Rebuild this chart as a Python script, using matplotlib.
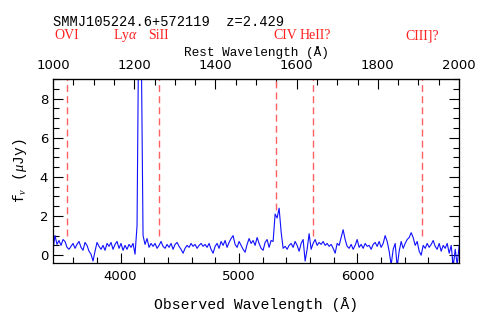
import numpy as np
import matplotlib
matplotlib.use("Agg")
import matplotlib.pyplot as plt
from matplotlib.ticker import MultipleLocator, FixedLocator
from matplotlib.transforms import blended_transform_factory

# source info
obj_name = "SMMJ105224.6+572119"
redshift = 2.429

# observed spectrum: regular grid, start + step in Angstrom
wave_start = 3429.0
wave_step = 16.9
flux = [
    0.3, 1.0, 0.55, 0.75, 0.5, 0.8, 0.7, 0.4, 0.3, 0.45,
    0.6, 0.35, 0.55, 0.7, 0.4, 0.25, 0.65, 0.5, 0.2, 0.05,
    -0.3, 0.2, 0.65, 0.45, 0.3, 0.5, 0.25, 0.6, 0.45, 0.65,
    0.3, 0.55, 0.7, 0.35, 0.6, 0.25, 0.5, 0.3, 0.55, 0.4,
    0.6, 0.05, 1.5, 14.0, 12.0, 1.0, 0.55, 0.85, 0.4, 0.6,
    0.45, 0.6, 0.35, 0.5, 0.7, 0.45, 0.35, 0.55, 0.4, 0.6,
    0.3, 0.55, 0.65, 0.45, 0.3, 0.1, 0.35, 0.5, 0.4, 0.6,
    0.45, 0.55, 0.35, 0.5, 0.6, 0.45, 0.55, 0.4, 0.6, 0.3,
    0.1, 0.45, 0.6, 0.35, 0.7, 0.5, 0.75, 0.4, 0.65, 0.85,
    1.0, 0.55, 0.4, 0.7, 0.5, 0.3, 0.15, 0.55, 0.85, 0.6,
    0.75, 0.5, 0.9, 0.6, 0.35, 0.25, 0.65, 0.8, 0.4, 0.75,
    0.7, 2.1, 1.9, 2.4, 1.2, 0.35, 0.45, 0.3, 0.5, 0.6,
    0.4, 0.7, 0.5, 0.2, 0.6, 0.8, -0.3, 0.3, 1.1, 0.3,
    0.6, 0.8, 0.5, 0.65, 0.55, 0.7, 0.5, 0.6, 0.45, 0.55,
    0.35, 0.1, 0.6, 0.5, 0.9, 1.3, 0.8, 0.45, 0.35, 0.55,
    0.3, 0.5, 0.8, 0.4, 0.55, 0.35, 0.6, 0.45, 0.5, 0.3,
    0.55, 0.65, 0.45, 0.7, 0.4, 0.6, 1.0, 0.7, 0.2, -0.5,
    0.3, 0.6, -0.6, 0.2, 0.7, 0.35, 0.6, 0.8, 0.9, 1.15,
    0.9, 0.5, 0.7, 0.2, 0.0, 0.5, 0.35, 0.6, 0.4, 0.55,
    0.75, 0.45, 0.3, 0.6, 0.2, 0.5, 0.35, 0.6, 0.1, 0.5,
    -0.6, 0.3, -0.5, 0.5,
]

# emission lines (rest frame, Angstrom) and where the marker stops (flux)
line_names = ["OVI", r"Ly$\alpha$", "SiII", "CIV", "HeII?", "CIII]?"]
line_rest = [1034, 1216, 1260, 1549, 1640, 1909]
line_stop = [1.0, None, 1.0, 2.3, 1.0, 1.0]

rest_ticks = [1000, 1200, 1400, 1600, 1800, 2000]

wave = wave_start + wave_step * np.arange(len(flux))
zfac = 1 + redshift

# label nudges in rest Angstrom so names don't collide
label_shift = {r"Ly$\alpha$": -38, "CIV": 22, "HeII?": 7}

plt.rcParams["mathtext.fontset"] = "custom"
plt.rcParams["mathtext.rm"] = "Liberation Serif"
plt.rcParams["mathtext.it"] = "Liberation Serif:italic"

fig = plt.figure(figsize=(4.85, 3.16), dpi=100)
ax = fig.add_axes([53 / 485, 1 - 263 / 316, 406 / 485, 184 / 316])

ax.plot(wave, flux, color="#1010ff", lw=0.8)

for name, rest, stop in zip(line_names, line_rest, line_stop):
    if stop is not None:
        ax.plot([rest * zfac, rest * zfac], [stop, 9], color="#ff6060",
                lw=1.0, dashes=(5, 3))

ax.set_xlim(1000 * zfac, 2000 * zfac)
ax.set_ylim(-0.4, 9)

ax.xaxis.set_major_locator(MultipleLocator(1000))
ax.xaxis.set_minor_locator(MultipleLocator(200))
ax.yaxis.set_major_locator(MultipleLocator(2))
ax.yaxis.set_minor_locator(MultipleLocator(0.5))
ax.tick_params(which="both", direction="in", right=True, labelsize=9.5)
ax.tick_params(which="major", length=7, width=0.8)
ax.tick_params(which="minor", length=4, width=0.8)
ax.tick_params(axis="x", which="both", top=False, pad=5)

top = ax.secondary_xaxis("top", functions=(lambda x: x / zfac, lambda x: x * zfac))
top.xaxis.set_major_locator(FixedLocator(rest_ticks))
top.xaxis.set_minor_locator(FixedLocator(list(range(1050, 2000, 50))))
top.tick_params(which="both", direction="in", labelsize=9.5, pad=5)
top.tick_params(which="major", length=7, width=0.8)
top.tick_params(which="minor", length=4, width=0.8)
top.set_xlabel("Rest Wavelength (Å)", family="Liberation Mono", size=9.2, labelpad=2)

for sp in ax.spines.values():
    sp.set_linewidth(0.9)

ax.set_xlabel("Observed Wavelength (Å)", family="Liberation Mono", size=10.6, labelpad=10)
ax.set_ylabel(r"f$_\nu$ ($\mu$Jy)", family="Liberation Mono", size=10.5, labelpad=8)

trans = blended_transform_factory(ax.transData, ax.transAxes)
for name, rest in zip(line_names, line_rest):
    xpos = (rest + label_shift.get(name, 0)) * zfac
    ax.text(xpos, 1.235, name, transform=trans, color="#ff2020",
            family="Liberation Serif", size=10, ha="center", va="center")

fig.text(53 / 485, 1 - 22 / 316, f"{obj_name}  z={redshift}",
         family="Liberation Mono", size=9.9, ha="left", va="center")

fig.savefig("out.png", dpi=100)
